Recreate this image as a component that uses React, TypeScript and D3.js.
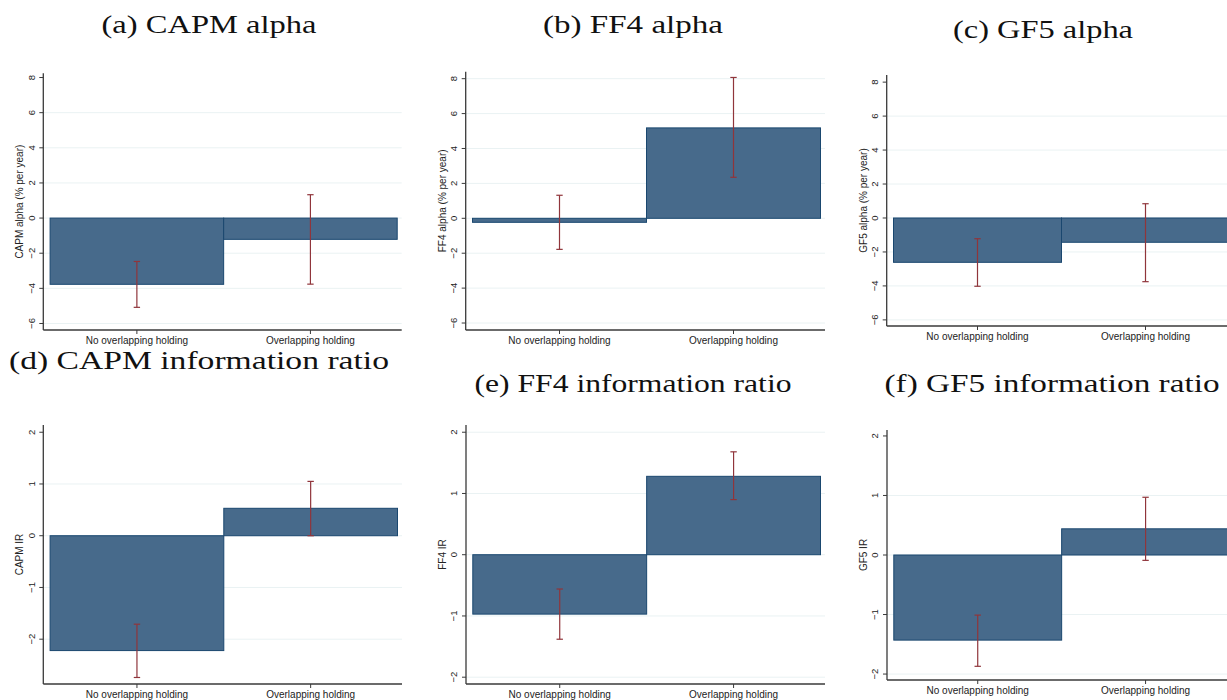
import React, { useRef, useEffect } from 'react';
import * as d3 from 'd3';

// categories on the x axis (same for every panel)
const categories = ['No overlapping holding', 'Overlapping holding'];

const titles = [
  '(a) CAPM alpha',
  '(b) FF4 alpha',
  '(c) GF5 alpha',
  '(d) CAPM information ratio',
  '(e) FF4 information ratio',
  '(f) GF5 information ratio',
];

const yLabels = [
  'CAPM alpha (% per year)',
  'FF4 alpha (% per year)',
  'GF5 alpha (% per year)',
  'CAPM IR',
  'FF4 IR',
  'GF5 IR',
];

// point estimates, one pair per panel
const estimates = [
  [-3.77, -1.21],
  [-0.23, 5.18],
  [-2.61, -1.43],
  [-2.22, 0.53],
  [-0.97, 1.28],
  [-1.43, 0.44],
];

// confidence interval ends
const ciLow = [
  [-5.08, -3.76],
  [-1.78, 2.35],
  [-4.02, -3.75],
  [-2.74, 0.0],
  [-1.38, 0.9],
  [-1.87, -0.09],
];
const ciHigh = [
  [-2.47, 1.33],
  [1.32, 8.07],
  [-1.22, 0.84],
  [-1.71, 1.05],
  [-0.56, 1.68],
  [-1.01, 0.97],
];

const alphaTicks = [-6, -4, -2, 0, 2, 4, 6, 8];
const irTicks = [-2, -1, 0, 1, 2];

// where each small graph sits on the page
const layout = [
  { left: 43.3, right: 401.7, top: 73.3, bottom: 330, yDomain: [-6.37, 8.24], tx: 209, ty: 33, tw: 215, fs: 25, topGrid: false },
  { left: 465.7, right: 825, top: 71.7, bottom: 330, yDomain: [-6.4, 8.4], tx: 633, ty: 33, tw: 180, fs: 25, topGrid: true },
  { left: 886.7, right: 1234, top: 75, bottom: 326, yDomain: [-6.36, 8.42], tx: 1043, ty: 37.5, tw: 180, fs: 25, topGrid: false },
  { left: 43.3, right: 402, top: 425, bottom: 684, yDomain: [-2.866, 2.14], tx: 199, ty: 369, tw: 380, fs: 26, topGrid: false },
  { left: 466, right: 825, top: 425, bottom: 684, yDomain: [-2.111, 2.118], tx: 633, ty: 391.5, tw: 317, fs: 25, topGrid: true },
  { left: 887, right: 1234, top: 430, bottom: 680, yDomain: [-2.1, 2.1], tx: 1052, ty: 391.5, tw: 335, fs: 25, topGrid: false },
];

const BAR_FILL = '#476a8b';
const BAR_LINE = '#1a476f';
const CI_COLOR = '#90353b';
const AXIS_COLOR = '#3a3a3a';
const GRID_COLOR = '#eaf2f3';
const SANS = '"Liberation Sans", Arial, sans-serif';

const App = () => {
  const ref = useRef<SVGSVGElement>(null);

  useEffect(() => {
    const svg = d3.select(ref.current);
    svg.selectAll('*').remove();
    svg.append('rect').attr('width', 1227).attr('height', 700).attr('fill', '#fff');

    layout.forEach((p, i) => {
      const g = svg.append('g');
      const ticks = i < 3 ? alphaTicks : irTicks;

      const y = d3.scaleLinear().domain(p.yDomain).range([p.bottom, p.top]);
      const x = d3.scaleBand()
        .domain(categories)
        .range([p.left + 6.8, p.right - 4.5])
        .padding(0);
      const bw = x.bandwidth();

      // panel caption
      g.append('text')
        .text(titles[i])
        .attr('x', p.tx)
        .attr('y', p.ty)
        .attr('text-anchor', 'middle')
        .attr('font-family', '"Liberation Serif", "Times New Roman", serif')
        .attr('font-size', p.fs)
        .attr('textLength', p.tw)
        .attr('lengthAdjust', 'spacingAndGlyphs')
        .attr('fill', '#111');

      // gridlines
      const gridTicks = p.topGrid ? ticks : ticks.slice(0, -1);
      g.selectAll('line.grid')
        .data(gridTicks)
        .join('line')
        .attr('class', 'grid')
        .attr('x1', p.left)
        .attr('x2', p.right)
        .attr('y1', d => y(d))
        .attr('y2', d => y(d))
        .attr('stroke', GRID_COLOR)
        .attr('stroke-width', 1);

      // bars
      g.selectAll('rect.bar')
        .data(categories)
        .join('rect')
        .attr('class', 'bar')
        .attr('x', d => x(d)!)
        .attr('width', bw)
        .attr('y', (d, j) => y(Math.max(0, estimates[i][j])))
        .attr('height', (d, j) => Math.abs(y(estimates[i][j]) - y(0)))
        .attr('fill', BAR_FILL)
        .attr('stroke', BAR_LINE)
        .attr('stroke-width', 1);

      // confidence intervals
      categories.forEach((c, j) => {
        const cx = x(c)! + bw / 2;
        const lo = y(ciLow[i][j]);
        const hi = y(ciHigh[i][j]);
        const ci = g.append('g').attr('stroke', CI_COLOR).attr('stroke-width', 1.2);
        ci.append('line').attr('x1', cx).attr('x2', cx).attr('y1', lo).attr('y2', hi);
        ci.append('line').attr('x1', cx - 3.2).attr('x2', cx + 3.2).attr('y1', lo).attr('y2', lo);
        ci.append('line').attr('x1', cx - 3.2).attr('x2', cx + 3.2).attr('y1', hi).attr('y2', hi);
      });

      // y axis
      g.append('line')
        .attr('x1', p.left).attr('x2', p.left)
        .attr('y1', p.top).attr('y2', p.bottom)
        .attr('stroke', AXIS_COLOR).attr('stroke-width', 1.3);
      ticks.forEach(t => {
        g.append('line')
          .attr('x1', p.left - 4).attr('x2', p.left)
          .attr('y1', y(t)).attr('y2', y(t))
          .attr('stroke', AXIS_COLOR).attr('stroke-width', 1);
        g.append('text')
          .text(d3.format('d')(t))
          .attr('transform', `translate(${p.left - 12},${y(t)}) rotate(-90)`)
          .attr('text-anchor', 'middle')
          .attr('dy', '0.35em')
          .attr('font-family', SANS)
          .attr('font-size', 9.5)
          .attr('fill', '#222');
      });
      g.append('text')
        .text(yLabels[i])
        .attr('transform', `translate(${p.left - 23.5},${(p.top + p.bottom) / 2}) rotate(-90)`)
        .attr('text-anchor', 'middle')
        .attr('dy', '0.35em')
        .attr('font-family', SANS)
        .attr('font-size', 10)
        .attr('fill', '#222');

      // x axis
      g.append('line')
        .attr('x1', p.left).attr('x2', p.right)
        .attr('y1', p.bottom).attr('y2', p.bottom)
        .attr('stroke', AXIS_COLOR).attr('stroke-width', 1.3);
      categories.forEach(c => {
        const cx = x(c)! + bw / 2;
        g.append('line')
          .attr('x1', cx).attr('x2', cx)
          .attr('y1', p.bottom).attr('y2', p.bottom + 4)
          .attr('stroke', AXIS_COLOR).attr('stroke-width', 1);
        g.append('text')
          .text(c)
          .attr('x', cx)
          .attr('y', p.bottom + 10)
          .attr('dy', '0.35em')
          .attr('text-anchor', 'middle')
          .attr('font-family', SANS)
          .attr('font-size', 10)
          .attr('fill', '#222');
      });
    });
  }, []);

  return (
    <svg
      ref={ref}
      width={1227}
      height={700}
      style={{ position: 'absolute', left: 0, top: 0, display: 'block' }}
    />
  );
};

export default App;
